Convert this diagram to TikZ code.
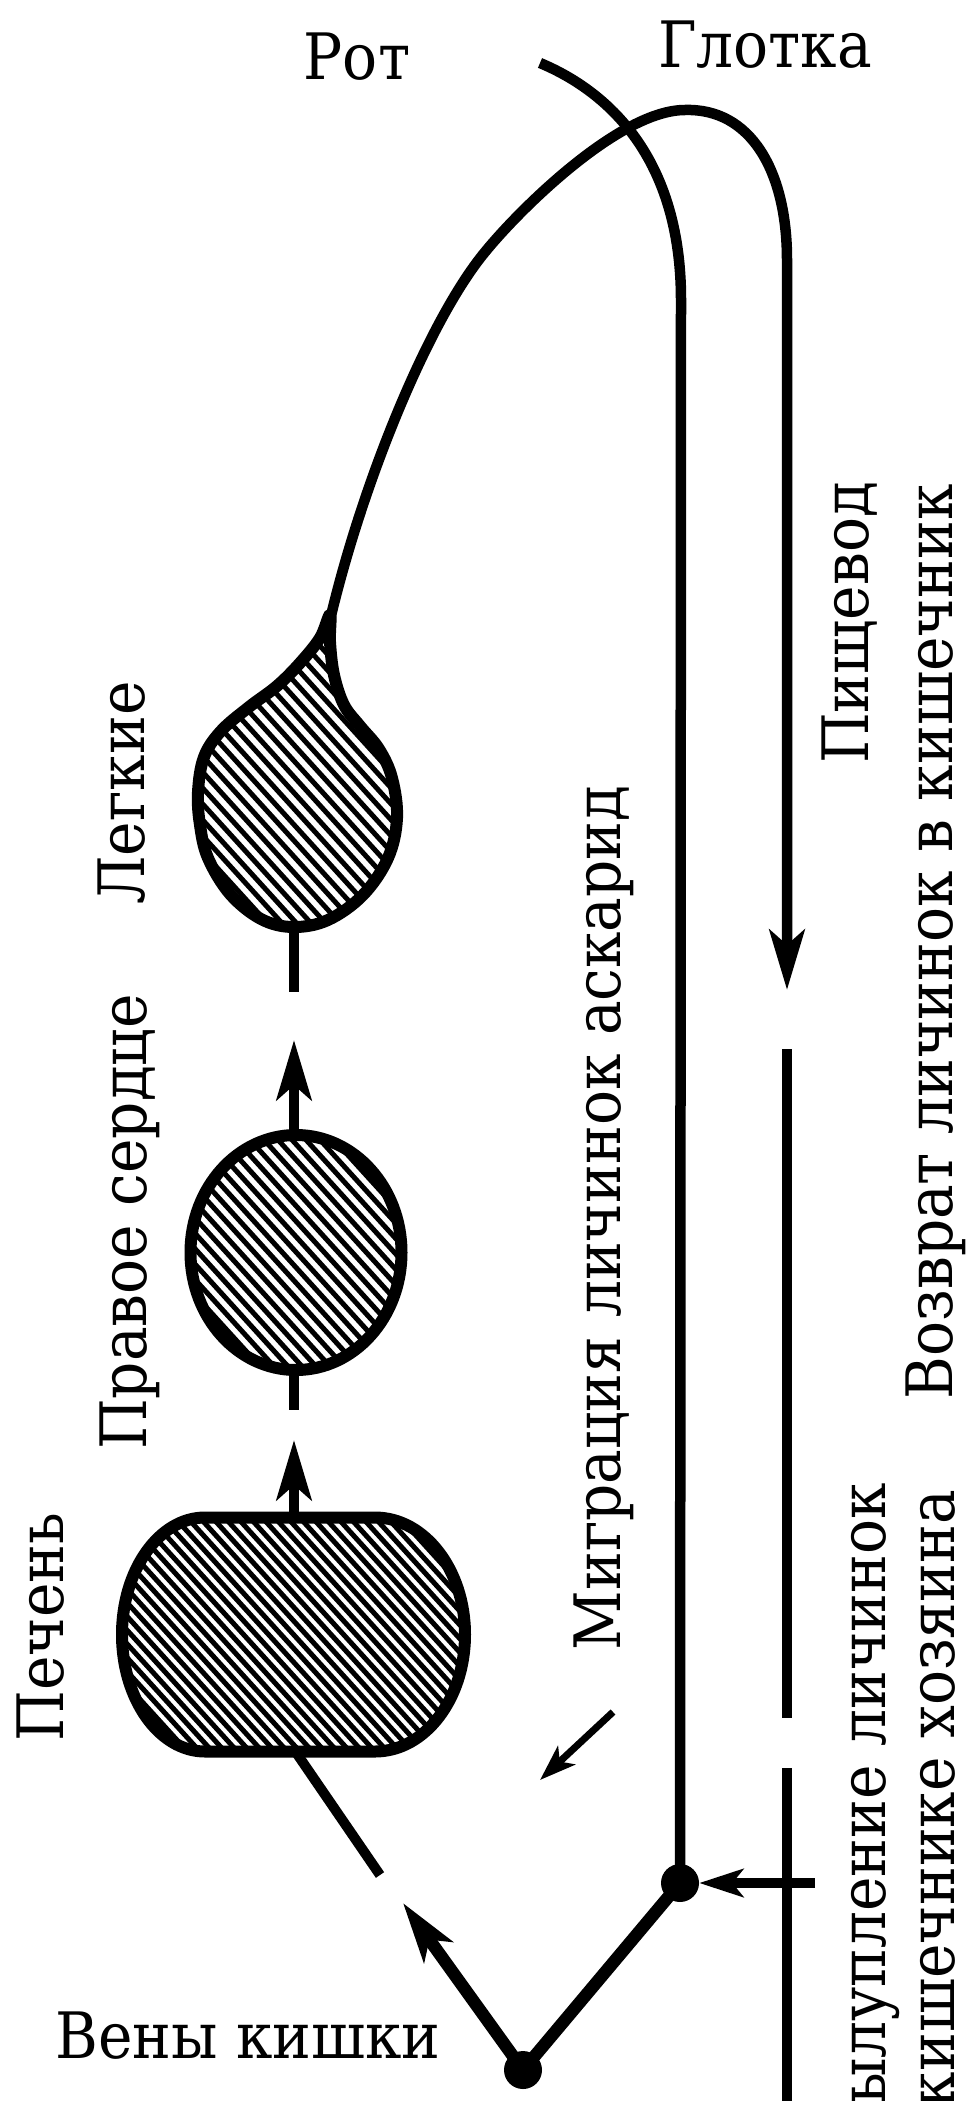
\documentclass[tikz,border=0pt]{standalone}
\usepackage{fontspec}
\setmainfont{DejaVu Serif}[FakeStretch=0.91]
\newfontfamily\rufont{DejaVu Serif}[FakeStretch=0.91]
\usetikzlibrary{arrows.meta}
\begin{document}
\begin{tikzpicture}[x=1pt,y=-1pt,
  lbl/.style={inner sep=0pt, outer sep=0pt, font=\rufont\fontsize{64}{72}\selectfont},
  vlbl/.style={lbl, rotate=90, anchor=base},
  mainline/.style={line width=10.5pt},
  organ/.style={line width=12pt},
  hatchline/.style={line width=5pt},
  shaft/.style={line width=10pt},
  varm/.style={line width=12.5pt},
  bigtip/.style={-{Stealth[length=60pt,width=35pt,inset=15pt]}},
  smalltip/.style={-{Stealth[length=44pt,width=28pt,inset=11pt]}},
  tinytip/.style={-{Stealth[length=36pt,width=25pt,inset=9pt]}},
  dot/.style={circle, fill=black, inner sep=0pt, minimum size=38pt}
]
\useasboundingbox (0,0) rectangle (971,2101);
\clip (0,0) rectangle (971,2101);

% ---------- key coordinates ----------
\coordinate (lungB) at (294,922);
\coordinate (lungOut) at (294,992);
\coordinate (heartT) at (294,1138);
\coordinate (heartIn) at (294,1040);
\coordinate (heartB) at (294,1366);
\coordinate (heartOut) at (294,1410);
\coordinate (liverT) at (294,1520);
\coordinate (liverIn) at (294,1440);
\coordinate (liverB) at (293,1748);
\coordinate (liverOut) at (380,1875);
\coordinate (veinTip) at (403,1903);
\coordinate (lungTip) at (330,620);
\coordinate (pharA) at (485,252);
\coordinate (pharTop) at (685,110);
\coordinate (pharR) at (787,260);
\coordinate (pharEnd) at (787,990);
\coordinate (mouth) at (540,63);
\coordinate (mouthV) at (681,300);
\coordinate (gutA1) at (787,1049);
\coordinate (gutA2) at (787,1718);
\coordinate (gutB1) at (787,1768);
\coordinate (gutB2) at (787,2120);
\coordinate (tickR) at (815,1883);
\coordinate (migS) at (613,1712);
\coordinate (migE) at (540,1780);

\node[dot] (dotU) at (680,1883) {};
\node[dot] (dotB) at (523,2070) {};

% ---------- hatching ----------
\begin{scope}
  \clip plot[smooth cycle, tension=0.6] coordinates {(330,615) (320,638) (300,663) (277,686) (249,707) (221,731) (204,757) (198,792) (200,825) (208,858) (230,894) (261,919) (293,927) (328,920) (363,895) (388,858) (397,818) (392,778) (379,749) (360,726) (344,705) (334,675) (330,642)};
  \foreach \k in {-26,...,26} \draw[hatchline] ({297+\k*14.5-250},{828-275}) -- ++(500,550);
\end{scope}
\begin{scope}
  \clip (296,1252.5) ellipse [x radius=105.5, y radius=117.5];
  \foreach \k in {-22,...,22} \draw[hatchline] ({296+\k*14-200},{1252-220}) -- ++(400,440);
\end{scope}
\begin{scope}
  \clip (205,1517.5) -- (375,1517.5) arc[start angle=-90,end angle=90,x radius=90,y radius=117] -- (205,1751.5) arc[start angle=90,end angle=270,x radius=83,y radius=117] -- cycle;
  \foreach \k in {-30,...,30} \draw[hatchline] ({294+\k*12.5-200},{1635-220}) -- ++(400,440);
\end{scope}

% ---------- organ outlines ----------
\draw[organ] plot[smooth cycle, tension=0.6] coordinates {(330,615) (320,638) (300,663) (277,686) (249,707) (221,731) (204,757) (198,792) (200,825) (208,858) (230,894) (261,919) (293,927) (328,920) (363,895) (388,858) (397,818) (392,778) (379,749) (360,726) (344,705) (334,675) (330,642)};
\draw[organ] (296,1252.5) ellipse [x radius=105.5, y radius=117.5];
\draw[organ] (205,1517.5) -- (375,1517.5) arc[start angle=-90,end angle=90,x radius=90,y radius=117] -- (205,1751.5) arc[start angle=90,end angle=270,x radius=83,y radius=117] -- cycle;

% ---------- pharynx arc (lungs -> pharynx -> oesophagus) ----------
\draw[mainline, bigtip] (lungTip) .. controls (362,484) and (428,321) .. (pharA)
  .. controls (520,209) and (620,110) .. (pharTop)
  .. controls (750,108) and (787,170) .. (pharR) -- (pharEnd);

% ---------- mouth curve -> migration line ----------
\draw[mainline] (mouth) .. controls (600,88) and (681,150) .. (mouthV) -- (dotU.center);

% ---------- intestine ----------
\draw[mainline] (gutA1) -- (gutA2);
\draw[mainline] (gutB1) -- (gutB2);
\draw[shaft, smalltip] (tickR) -- (dotU);

% ---------- vessels ----------
\draw[varm] (dotB.center) -- (dotU.center);
\draw[varm, bigtip] (dotB.center) -- (veinTip);
\draw[shaft] (liverB) -- (liverOut);
\draw[shaft, bigtip] (liverT) -- (liverIn);
\draw[shaft] (heartB) -- (heartOut);
\draw[shaft, bigtip] (heartT) -- (heartIn);
\draw[shaft] (lungB) -- (lungOut);
\draw[line width=7pt, tinytip] (migS) -- (migE);

% ---------- labels ----------
\node[lbl, anchor=base] (tRot) at (357,80) {Рот};
\node[lbl, anchor=base] (tGlot) at (765,67) {Глотка};
\node[vlbl] (tLung) at (144,793) {Легкие};
\node[vlbl] (tHeart) at (146,1222) {Правое сердце};
\node[vlbl] (tLiver) at (63,1627) {Печень};
\node[vlbl] (tMig) at (620,1218) {Миграция личинок аскарид};
\node[vlbl] (tOes) at (868,623) {Пищевод};
\node[vlbl] (tRet) at (952,942) {Возврат личинок в кишечник};
\node[lbl, rotate=90, anchor=base east] (tHatch1) at (885,1483) {Вылупление личинок};
\node[lbl, rotate=90, anchor=base east] (tHatch2) at (954,1490) {в кишечнике хозяина};
\node[lbl, anchor=base] (tVein) at (248,2058) {Вены кишки};
\end{tikzpicture}
\end{document}
